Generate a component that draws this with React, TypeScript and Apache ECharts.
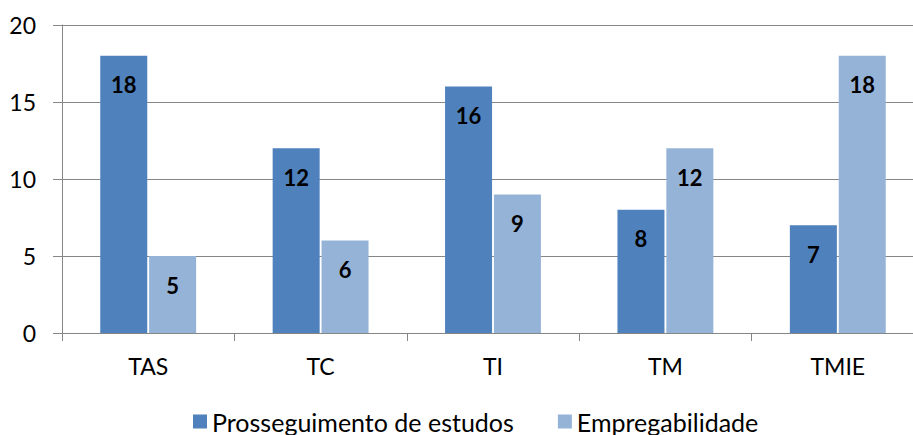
import React, { useEffect, useRef } from "react";
import * as echarts from "echarts";

const categories = ["TAS", "TC", "TI", "TM", "TMIE"];
const prosseguimento = [18, 12, 16, 8, 7];
const empregabilidade = [5, 6, 9, 12, 18];
const seriesNames = ["Prosseguimento de estudos", "Empregabilidade"];

const FONT = "Lato, 'Noto Sans', sans-serif";

export default function App() {
  const ref = useRef<HTMLDivElement>(null);
  useEffect(() => {
    if (!ref.current) return;
    const chart = echarts.init(ref.current, undefined, { renderer: "svg" });
    const label = {
      show: true,
      position: "insideTop" as const,
      distance: 18,
      fontSize: 22,
      fontWeight: "bold" as const,
      color: "#000",
      fontFamily: FONT,
    };
    chart.setOption({
      animation: false,
      textStyle: { fontFamily: FONT },
      grid: { left: 62, right: 16, top: 25, bottom: 102 },
      legend: {
        bottom: -4,
        left: 188,
        itemWidth: 14,
        itemHeight: 14,
        itemGap: 44,
        icon: "rect",
        textStyle: { fontSize: 25, color: "#000", fontFamily: FONT },
        data: seriesNames,
      },
      xAxis: {
        type: "category",
        data: categories,
        axisLine: { lineStyle: { color: "#868686" } },
        axisTick: { show: true, length: 8, lineStyle: { color: "#868686" } },
        axisLabel: { fontSize: 23, color: "#000", margin: 21, fontFamily: FONT },
      },
      yAxis: {
        type: "value",
        min: 0,
        max: 20,
        interval: 5,
        axisLine: { show: true, lineStyle: { color: "#868686" } },
        axisTick: { show: true, length: 9, lineStyle: { color: "#868686" } },
        splitLine: { lineStyle: { color: "#868686" } },
        axisLabel: { fontSize: 23, color: "#000", margin: 26, fontFamily: FONT },
      },
      series: [
        {
          name: seriesNames[0],
          type: "bar",
          data: prosseguimento,
          barWidth: 47,
          barGap: "4%",
          itemStyle: { color: "#4F81BD" },
          label,
        },
        {
          name: seriesNames[1],
          type: "bar",
          data: empregabilidade,
          barWidth: 47,
          barGap: "4%",
          itemStyle: { color: "#95B3D7" },
          label,
        },
      ],
    });
    return () => chart.dispose();
  }, []);
  return (
    <div style={{ position: "absolute", left: 0, top: 0, width: 913, height: 435, overflow: "hidden" }}>
      <div ref={ref} style={{ width: 940, height: 435 }} />
    </div>
  );
}
